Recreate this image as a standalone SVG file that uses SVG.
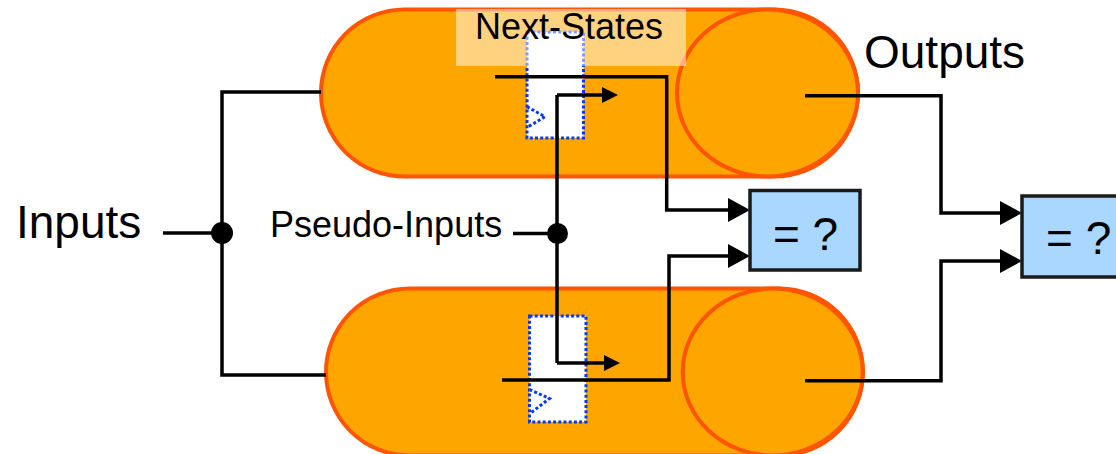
<svg xmlns="http://www.w3.org/2000/svg" width="1116" height="454" viewBox="0 0 1116 454">
<style>
.pill{fill:#FFA500;stroke:#FF5400;stroke-width:4}
.ff{fill:#FFFFFF;stroke:#0038FF;stroke-width:3;stroke-dasharray:3 2.2}
.notch{fill:none;stroke:#0038FF;stroke-width:3;stroke-dasharray:3 2.2}
.wire{fill:none;stroke:#000;stroke-width:3.5}
.cmp{fill:#A9D7FF;stroke:#1A1A1A;stroke-width:3.5}
.lbl{font-family:"Liberation Sans",Arial,sans-serif;fill:#000}
</style>
<defs>
<marker id="bigArrow" markerUnits="userSpaceOnUse" markerWidth="22" markerHeight="24" refX="18" refY="12" orient="auto">
<path d="M0,0 L22,12 L0,24 z" fill="#000"/>
</marker>
<marker id="smallArrow" markerUnits="userSpaceOnUse" markerWidth="16" markerHeight="16" refX="12" refY="8" orient="auto">
<path d="M0,0 L16,8 L0,16 z" fill="#000"/>
</marker>
</defs>
<rect width="1116" height="454" fill="#FFFFFF"/>

<g id="machine-top">
<rect class="pill" x="321" y="9.5" width="537" height="167" rx="83.5" ry="83.5"/>
<ellipse class="pill" cx="767.5" cy="93" rx="90.5" ry="83.5"/>
<rect class="ff" x="527" y="32" width="56.5" height="106"/>
<polyline class="notch" points="527,106.7 545,116.7 528.3,126.7"/>
</g>

<g id="machine-bottom">
<rect class="pill" x="326" y="288.5" width="537" height="167" rx="83.5" ry="83.5"/>
<ellipse class="pill" cx="772.7" cy="372" rx="90" ry="83.5"/>
<rect class="ff" x="529.5" y="316" width="56.5" height="106"/>
<polyline class="notch" points="529.5,389.5 549.5,398.5 530,413.5"/>
</g>

<g id="connectors">
<path class="wire" d="M163,233 L222,233"/>
<path class="wire" d="M321,92 L222,92 L222,375 L326,375"/>
<path class="wire" d="M513,233.5 L557,233.5"/>
<path class="wire" d="M557,95 L557,363"/>
<path class="wire" d="M557,95 L614,95" marker-end="url(#smallArrow)"/>
<path class="wire" d="M557,363 L616,363" marker-end="url(#smallArrow)"/>
<path class="wire" d="M495,76.7 L666.7,76.7 L666.7,210 L746,210" marker-end="url(#bigArrow)"/>
<path class="wire" d="M502,380 L669,380 L669,256 L746,256" marker-end="url(#bigArrow)"/>
<path class="wire" d="M805,95.7 L941,95.7 L941,213 L1018,213" marker-end="url(#bigArrow)"/>
<path class="wire" d="M805,380.7 L941,380.7 L941,261 L1018,261" marker-end="url(#bigArrow)"/>
<circle cx="222" cy="233" r="11" fill="#000"/>
<circle cx="557.5" cy="233.5" r="10.5" fill="#000"/>
</g>

<g id="next-states-label">
<rect x="456" y="9" width="230" height="57" fill="#FFFFFF" fill-opacity="0.5"/>
<text class="lbl" x="475" y="38.5" font-size="36">Next-States</text>
</g>

<g id="inputs-label">
<text class="lbl" x="16" y="238" font-size="46">Inputs</text>
</g>

<g id="pseudo-inputs-label">
<text class="lbl" x="270" y="236.5" font-size="36">Pseudo-Inputs</text>
</g>

<g id="outputs-label">
<text class="lbl" x="864" y="68" font-size="46">Outputs</text>
</g>

<g id="compare-states">
<rect class="cmp" x="750" y="190.5" width="110" height="79.5"/>
<text class="lbl" x="805.5" y="250" font-size="46" text-anchor="middle">= ?</text>
</g>

<g id="compare-outputs">
<rect class="cmp" x="1022" y="196" width="110" height="81"/>
<text class="lbl" x="1046" y="254" font-size="46">= ?</text>
</g>
</svg>
